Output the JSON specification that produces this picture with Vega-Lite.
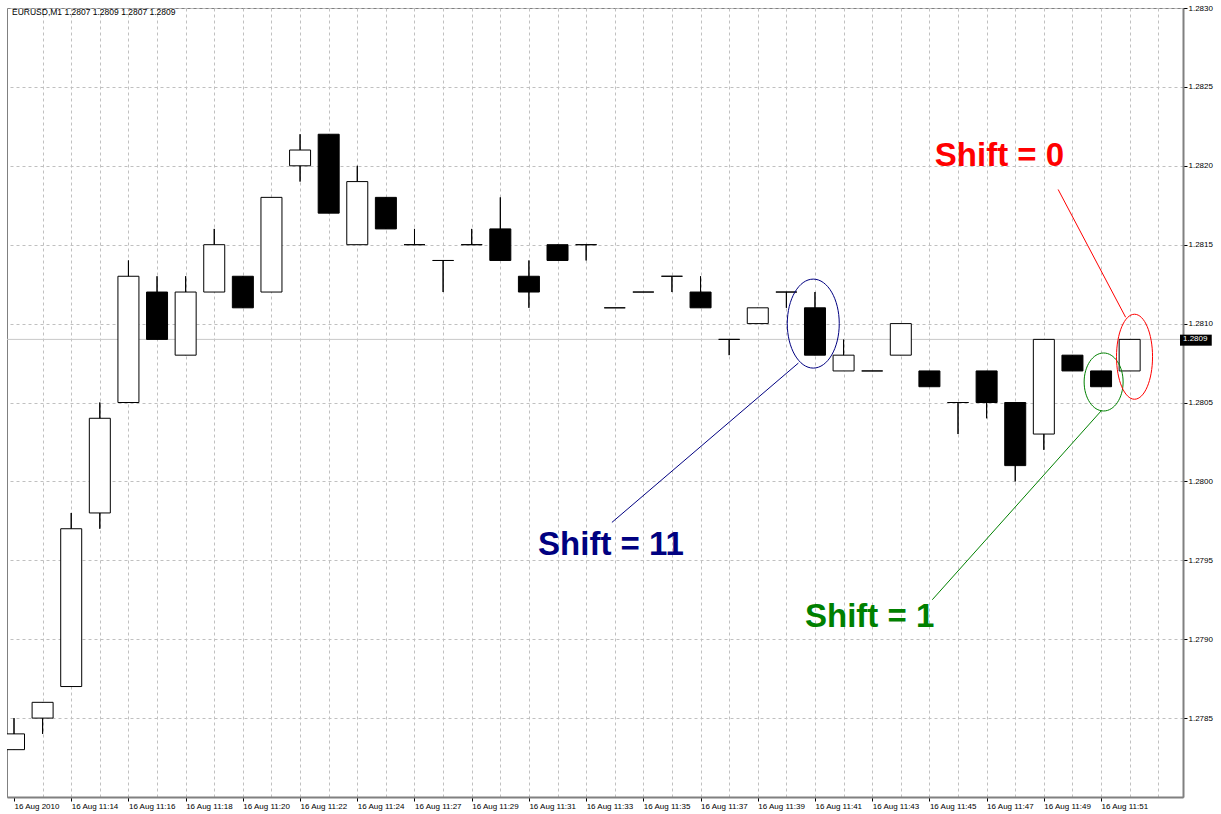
{
  "$schema": "https://vega.github.io/schema/vega-lite/v6.json",
  "width": 1176,
  "height": 789,
  "autosize": {"type": "none"},
  "padding": {"left": 7, "top": 8, "right": 38, "bottom": 17},
  "background": "white",
  "title": {
    "text": "EURUSD,M1  1.2807 1.2809 1.2807 1.2809",
    "anchor": "start",
    "frame": "group",
    "orient": "top",
    "offset": -12,
    "dx": 5,
    "font": "Liberation Sans",
    "fontSize": 8.5,
    "fontWeight": "normal",
    "color": "black"
  },
  "config": {
    "view": {"stroke": "#808080", "strokeWidth": 1},
    "font": "Liberation Sans"
  },
  "resolve": {"axis": {"x": "independent", "y": "independent"}},
  "datasets": {
    "candles": [
      {"i": 0, "t": "11:12", "o": 1.2783, "h": 1.2785, "l": 1.2783, "c": 1.2784},
      {"i": 1, "t": "11:13", "o": 1.2785, "h": 1.2786, "l": 1.2784, "c": 1.2786},
      {"i": 2, "t": "11:14", "o": 1.2787, "h": 1.2798, "l": 1.2787, "c": 1.2797},
      {"i": 3, "t": "11:15", "o": 1.2798, "h": 1.2805, "l": 1.2797, "c": 1.2804},
      {"i": 4, "t": "11:16", "o": 1.2805, "h": 1.2814, "l": 1.2805, "c": 1.2813},
      {"i": 5, "t": "11:17", "o": 1.2812, "h": 1.2813, "l": 1.2809, "c": 1.2809},
      {"i": 6, "t": "11:18", "o": 1.2808, "h": 1.2813, "l": 1.2808, "c": 1.2812},
      {"i": 7, "t": "11:19", "o": 1.2812, "h": 1.2816, "l": 1.2812, "c": 1.2815},
      {"i": 8, "t": "11:20", "o": 1.2813, "h": 1.2813, "l": 1.2811, "c": 1.2811},
      {"i": 9, "t": "11:21", "o": 1.2812, "h": 1.2818, "l": 1.2812, "c": 1.2818},
      {"i": 10, "t": "11:22", "o": 1.2820, "h": 1.2822, "l": 1.2819, "c": 1.2821},
      {"i": 11, "t": "11:23", "o": 1.2822, "h": 1.2822, "l": 1.2817, "c": 1.2817},
      {"i": 12, "t": "11:24", "o": 1.2815, "h": 1.2820, "l": 1.2815, "c": 1.2819},
      {"i": 13, "t": "11:26", "o": 1.2818, "h": 1.2818, "l": 1.2816, "c": 1.2816},
      {"i": 14, "t": "11:27", "o": 1.2815, "h": 1.2816, "l": 1.2815, "c": 1.2815},
      {"i": 15, "t": "11:28", "o": 1.2814, "h": 1.2814, "l": 1.2812, "c": 1.2814},
      {"i": 16, "t": "11:29", "o": 1.2815, "h": 1.2816, "l": 1.2815, "c": 1.2815},
      {"i": 17, "t": "11:30", "o": 1.2816, "h": 1.2818, "l": 1.2814, "c": 1.2814},
      {"i": 18, "t": "11:31", "o": 1.2813, "h": 1.2814, "l": 1.2811, "c": 1.2812},
      {"i": 19, "t": "11:32", "o": 1.2815, "h": 1.2815, "l": 1.2814, "c": 1.2814},
      {"i": 20, "t": "11:33", "o": 1.2815, "h": 1.2815, "l": 1.2814, "c": 1.2815},
      {"i": 21, "t": "11:34", "o": 1.2811, "h": 1.2811, "l": 1.2811, "c": 1.2811},
      {"i": 22, "t": "11:35", "o": 1.2812, "h": 1.2812, "l": 1.2812, "c": 1.2812},
      {"i": 23, "t": "11:36", "o": 1.2813, "h": 1.2813, "l": 1.2812, "c": 1.2813},
      {"i": 24, "t": "11:37", "o": 1.2812, "h": 1.2813, "l": 1.2811, "c": 1.2811},
      {"i": 25, "t": "11:38", "o": 1.2809, "h": 1.2809, "l": 1.2808, "c": 1.2809},
      {"i": 26, "t": "11:39", "o": 1.2810, "h": 1.2811, "l": 1.2810, "c": 1.2811},
      {"i": 27, "t": "11:40", "o": 1.2812, "h": 1.2812, "l": 1.2811, "c": 1.2812},
      {"i": 28, "t": "11:41", "o": 1.2811, "h": 1.2812, "l": 1.2808, "c": 1.2808},
      {"i": 29, "t": "11:42", "o": 1.2807, "h": 1.2809, "l": 1.2807, "c": 1.2808},
      {"i": 30, "t": "11:43", "o": 1.2807, "h": 1.2807, "l": 1.2807, "c": 1.2807},
      {"i": 31, "t": "11:44", "o": 1.2808, "h": 1.2810, "l": 1.2808, "c": 1.2810},
      {"i": 32, "t": "11:45", "o": 1.2807, "h": 1.2807, "l": 1.2806, "c": 1.2806},
      {"i": 33, "t": "11:46", "o": 1.2805, "h": 1.2805, "l": 1.2803, "c": 1.2805},
      {"i": 34, "t": "11:47", "o": 1.2807, "h": 1.2807, "l": 1.2804, "c": 1.2805},
      {"i": 35, "t": "11:48", "o": 1.2805, "h": 1.2805, "l": 1.2800, "c": 1.2801},
      {"i": 36, "t": "11:49", "o": 1.2803, "h": 1.2809, "l": 1.2802, "c": 1.2809},
      {"i": 37, "t": "11:50", "o": 1.2808, "h": 1.2808, "l": 1.2807, "c": 1.2807},
      {"i": 38, "t": "11:51", "o": 1.2807, "h": 1.2807, "l": 1.2806, "c": 1.2806},
      {"i": 39, "t": "11:52", "o": 1.2807, "h": 1.2809, "l": 1.2807, "c": 1.2809}
    ],
    "last": [{"p": 1.2809, "label": "1.2809"}],
    "notes": [
      {"name": "Shift = 11", "cx": 27.94, "cy": 1.28100, "ax": 27.42, "ay": 1.28075, "bx": 20.90, "by": 1.27974, "tx": 20.87, "ty": 1.27960},
      {"name": "Shift = 1", "cx": 38.09, "cy": 1.28063, "ax": 38.02, "ay": 1.28045, "bx": 32.10, "by": 1.27925, "tx": 29.91, "ty": 1.27914},
      {"name": "Shift = 0", "cx": 39.17, "cy": 1.28079, "ax": 38.86, "ay": 1.28104, "bx": 36.50, "by": 1.28185, "tx": 34.45, "ty": 1.28206}
    ]
  },
  "layer": [
    {
      "data": {"name": "candles"},
      "mark": {"type": "rule", "color": "black", "strokeWidth": 1, "clip": true},
      "encoding": {
        "x": {
          "field": "i", "type": "quantitative", "title": null,
          "scale": {"domain": [-0.07, 40.69], "nice": false, "zero": false},
          "axis": {
            "orient": "bottom",
            "values": [0,1,2,3,4,5,6,7,8,9,10,11,12,13,14,15,16,17,18,19,20,21,22,23,24,25,26,27,28,29,30,31,32,33,34,35,36,37,38,39,40],
            "labelExpr": "(datum.value % 2 === 0 && datum.value <= 38) ? ['16 Aug 2010','16 Aug 11:14','16 Aug 11:16','16 Aug 11:18','16 Aug 11:20','16 Aug 11:22','16 Aug 11:24','16 Aug 11:27','16 Aug 11:29','16 Aug 11:31','16 Aug 11:33','16 Aug 11:35','16 Aug 11:37','16 Aug 11:39','16 Aug 11:41','16 Aug 11:43','16 Aug 11:45','16 Aug 11:47','16 Aug 11:49','16 Aug 11:51'][datum.value / 2] : ''",
            "labelAlign": "left",
            "labelFont": "Liberation Sans",
            "labelFontSize": 8,
            "labelColor": "black",
            "labelPadding": 1,
            "labelFlush": false,
            "labelOverlap": false,
            "tickSize": 4,
            "tickColor": "black",
            "tickOpacity": {"condition": {"test": "datum.value % 2 === 0 && datum.value <= 38", "value": 1}, "value": 0},
            "grid": true,
            "gridColor": "#c0c0c0",
            "gridDash": [3, 3],
            "gridWidth": 1,
            "gridOpacity": {"condition": {"test": "datum.value === 0", "value": 0}, "value": 1},
            "domainColor": "#808080",
            "domainWidth": 2
          }
        },
        "y": {
          "field": "l", "type": "quantitative", "title": null,
          "scale": {"domain": [1.2780, 1.2830], "nice": false, "zero": false},
          "axis": {
            "orient": "right",
            "values": [1.2785, 1.2790, 1.2795, 1.2800, 1.2805, 1.2810, 1.2815, 1.2820, 1.2825, 1.2830],
            "format": ".4f",
            "labelFont": "Liberation Sans",
            "labelFontSize": 8,
            "labelColor": "black",
            "labelPadding": 1,
            "labelFlush": false,
            "labelOverlap": false,
            "tickSize": 4,
            "tickColor": "black",
            "grid": true,
            "gridColor": "#c0c0c0",
            "gridDash": [3, 3],
            "gridWidth": 1,
            "domainColor": "#808080",
            "domainWidth": 2
          }
        },
        "y2": {"field": "h"}
      }
    },
    {
      "data": {"name": "last"},
      "mark": {"type": "rule", "color": "#c8c8c8", "strokeWidth": 1},
      "encoding": {
        "y": {"field": "p", "type": "quantitative", "axis": null}
      }
    },
    {
      "data": {"name": "candles"},
      "mark": {"type": "rule", "color": "black", "strokeWidth": 1, "clip": true},
      "encoding": {
        "x": {"field": "i", "type": "quantitative", "axis": null},
        "y": {"field": "l", "type": "quantitative", "axis": null},
        "y2": {"field": "h"}
      }
    },
    {
      "data": {"name": "candles"},
      "mark": {"type": "bar", "size": 21, "stroke": "black", "strokeWidth": 1, "clip": true},
      "encoding": {
        "x": {"field": "i", "type": "quantitative", "axis": null},
        "y": {"field": "o", "type": "quantitative", "axis": null},
        "y2": {"field": "c"},
        "fill": {"condition": {"test": "datum.c < datum.o", "value": "black"}, "value": "white"}
      }
    },
    {
      "data": {"name": "notes"},
      "transform": [{"filter": "datum.name === 'Shift = 11'"}],
      "mark": {"type": "point", "filled": false, "opacity": 1, "strokeWidth": 1, "size": 7921,
        "shape": "M0,-1C0.3226,-1,0.584,-0.5523,0.584,0C0.584,0.5523,0.3226,1,0,1C-0.3226,1,-0.584,0.5523,-0.584,0C-0.584,-0.5523,-0.3226,-1,0,-1Z"},
      "encoding": {
        "x": {"field": "cx", "type": "quantitative", "axis": null},
        "y": {"field": "cy", "type": "quantitative", "axis": null},
        "color": {"field": "name", "type": "nominal", "legend": null, "scale": {"domain": ["Shift = 11", "Shift = 1", "Shift = 0"], "range": ["#000080", "#008000", "#ff0000"]}}
      }
    },
    {
      "data": {"name": "notes"},
      "transform": [{"filter": "datum.name === 'Shift = 1'"}],
      "mark": {"type": "point", "filled": false, "opacity": 1, "strokeWidth": 1, "size": 3364,
        "shape": "M0,-1C0.3711,-1,0.672,-0.5523,0.672,0C0.672,0.5523,0.3711,1,0,1C-0.3711,1,-0.672,0.5523,-0.672,0C-0.672,-0.5523,-0.3711,-1,0,-1Z"},
      "encoding": {
        "x": {"field": "cx", "type": "quantitative", "axis": null},
        "y": {"field": "cy", "type": "quantitative", "axis": null},
        "color": {"field": "name", "type": "nominal", "legend": null}
      }
    },
    {
      "data": {"name": "notes"},
      "transform": [{"filter": "datum.name === 'Shift = 0'"}],
      "mark": {"type": "point", "filled": false, "opacity": 1, "strokeWidth": 1, "size": 7225,
        "shape": "M0,-1C0.2342,-1,0.424,-0.5523,0.424,0C0.424,0.5523,0.2342,1,0,1C-0.2342,1,-0.424,0.5523,-0.424,0C-0.424,-0.5523,-0.2342,-1,0,-1Z"},
      "encoding": {
        "x": {"field": "cx", "type": "quantitative", "axis": null},
        "y": {"field": "cy", "type": "quantitative", "axis": null},
        "color": {"field": "name", "type": "nominal", "legend": null}
      }
    },
    {
      "data": {"name": "notes"},
      "mark": {"type": "rule", "strokeWidth": 1},
      "encoding": {
        "x": {"field": "ax", "type": "quantitative", "axis": null},
        "y": {"field": "ay", "type": "quantitative", "axis": null},
        "x2": {"field": "bx"},
        "y2": {"field": "by"},
        "color": {"field": "name", "type": "nominal", "legend": null}
      }
    },
    {
      "data": {"name": "notes"},
      "mark": {"type": "text", "font": "Liberation Sans", "fontSize": 33, "fontWeight": "bold", "align": "center", "baseline": "middle"},
      "encoding": {
        "x": {"field": "tx", "type": "quantitative", "axis": null},
        "y": {"field": "ty", "type": "quantitative", "axis": null},
        "text": {"field": "name"},
        "color": {"field": "name", "type": "nominal", "legend": null}
      }
    },
    {
      "data": {"name": "last"},
      "mark": {"type": "rect", "color": "black"},
      "encoding": {
        "x": {"datum": 40.76, "type": "quantitative", "axis": null},
        "x2": {"datum": 41.87},
        "y": {"datum": 1.28093, "type": "quantitative", "axis": null},
        "y2": {"datum": 1.28086}
      }
    },
    {
      "data": {"name": "last"},
      "mark": {"type": "text", "color": "white", "font": "Liberation Sans", "fontSize": 8, "align": "left", "baseline": "middle", "dx": 3},
      "encoding": {
        "x": {"datum": 40.76, "type": "quantitative", "axis": null},
        "y": {"field": "p", "type": "quantitative", "axis": null},
        "text": {"field": "label"}
      }
    }
  ]
}
